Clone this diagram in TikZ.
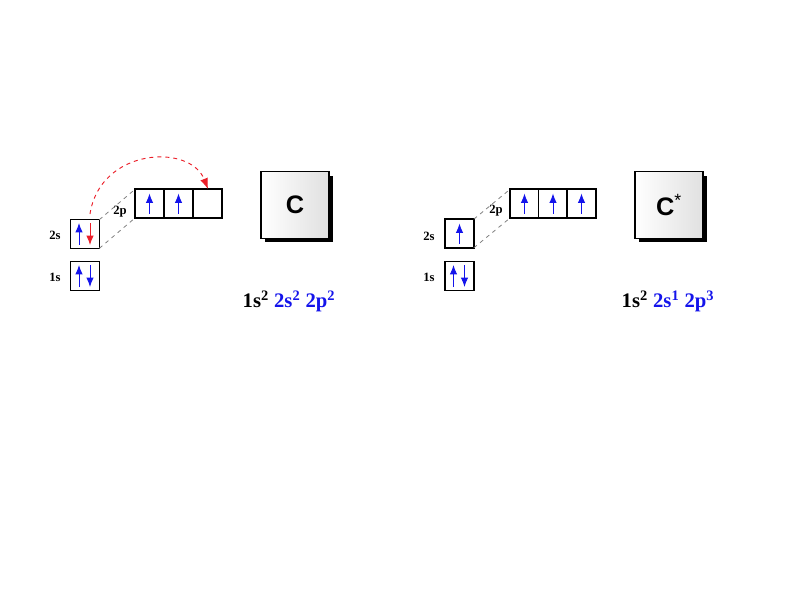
\documentclass[tikz,border=0pt]{standalone}
\usepackage{fontspec}
\setmainfont{Liberation Serif}
\newfontfamily\symfont{Liberation Sans}
\usetikzlibrary{arrows.meta,calc,shadows}
\definecolor{eblue}{RGB}{20,20,235}
\definecolor{ered}{RGB}{235,30,40}
\begin{document}
\begin{tikzpicture}[x=0.75pt,y=-0.75pt,
  orb/.style={draw=black,line width=1.1pt,fill=white,minimum width=21.5pt,minimum height=21.5pt,inner sep=0pt,outer sep=0pt},
  orblbl/.style={font=\bfseries\fontsize{9.5}{10}\selectfont,inner sep=0pt},
  up/.style={eblue,line width=0.7pt,-{Latex[length=7pt,width=5.5pt]}},
  guide/.style={gray,dashed,line width=0.6pt},
  elem/.style={draw=black,line width=0.8pt,minimum width=51pt,minimum height=50pt,inner sep=0pt,
     left color=white,right color=black!12,
     drop shadow={shadow xshift=3pt,shadow yshift=-3pt,fill=black,opacity=1},
     font=\symfont\bfseries\fontsize{19}{20}\selectfont},
  conf/.style={font=\bfseries\fontsize{15.5}{17}\selectfont,inner sep=0pt}]
\useasboundingbox (0,0) rectangle (800,600);
% ---------- left: C ----------
\node[orb] (s1L) at (85,276) {};
\node[orb] (s2L) at (85,234) {};
\node[orb] (p1L) at (149.5,203.5) {};
\node[orb] (p2L) at (178.5,203.5) {};
\node[orb] (p3L) at (207.5,203.5) {};
\node[orblbl] (l1L) at (55,277) {1s};
\node[orblbl] (l2L) at (55,235) {2s};
\node[orblbl] (lpL) at (120,212) {2p};
\draw[guide] (s2L.north east) -- (p1L.north west);
\draw[guide] (s2L.south east) -- (p1L.south west);
% electrons
\draw[up] ($(s1L.center)+(-6,11)$) -- ($(s1L.center)+(-6,-11)$);
\draw[up] ($(s1L.center)+(5,-11)$) -- ($(s1L.center)+(5,11)$);
\draw[up] ($(s2L.center)+(-6,11)$) -- ($(s2L.center)+(-6,-11)$);
\draw[up,ered] ($(s2L.center)+(5,-11)$) -- ($(s2L.center)+(5,11)$);
\draw[up] ($(p1L.center)+(0,10)$) -- ($(p1L.center)+(0,-10)$);
\draw[up] ($(p2L.center)+(0,10)$) -- ($(p2L.center)+(0,-10)$);
% promotion arrow
\coordinate (aS) at (90,214);
\coordinate (aE) at (208,189);
\draw[ered,dashed,line width=0.7pt,-{Latex[length=8pt,width=6pt]}] (aS) .. controls (100,148) and (190,143) .. (aE);
\node[elem] (CL) at (295,205) {C};
\node[conf] (cfL) at (289,301) {1s\textsuperscript{2} \textcolor{eblue}{2s\textsuperscript{2} 2p\textsuperscript{2}}};
% ---------- right: C* ----------
\node[orb] (s1R) at (459.5,276) {};
\node[orb] (s2R) at (459.5,233.5) {};
\node[orb] (p1R) at (524.5,203.5) {};
\node[orb] (p2R) at (553,203.5) {};
\node[orb] (p3R) at (581.5,203.5) {};
\node[orblbl] (l1R) at (429,277) {1s};
\node[orblbl] (l2R) at (429,236) {2s};
\node[orblbl] (lpR) at (496,211) {2p};
\draw[guide] (s2R.north east) -- (p1R.north west);
\draw[guide] (s2R.south east) -- (p1R.south west);
\draw[up] ($(s1R.center)+(-6,11)$) -- ($(s1R.center)+(-6,-11)$);
\draw[up] ($(s1R.center)+(5,-11)$) -- ($(s1R.center)+(5,11)$);
\draw[up] ($(s2R.center)+(0,10)$) -- ($(s2R.center)+(0,-10)$);
\draw[up] ($(p1R.center)+(0,10)$) -- ($(p1R.center)+(0,-10)$);
\draw[up] ($(p2R.center)+(0,10)$) -- ($(p2R.center)+(0,-10)$);
\draw[up] ($(p3R.center)+(0,10)$) -- ($(p3R.center)+(0,-10)$);
\node[elem] (CR) at (669,205) {C\textsuperscript{\mdseries*}};
\node[conf] (cfR) at (668,301) {1s\textsuperscript{2} \textcolor{eblue}{2s\textsuperscript{1} 2p\textsuperscript{3}}};
\end{tikzpicture}
\end{document}
